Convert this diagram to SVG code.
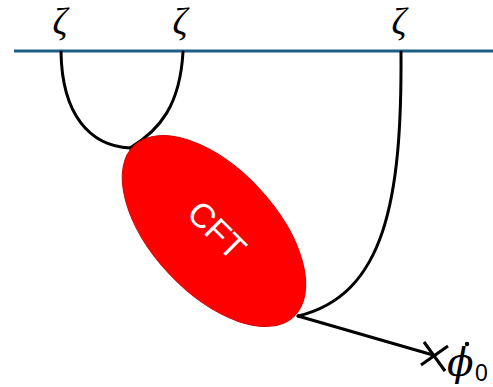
<svg xmlns="http://www.w3.org/2000/svg" width="493" height="387" viewBox="0 0 493 387">
<style>
.lbl{font-family:"Liberation Serif","DejaVu Serif",serif;font-style:italic;font-size:37px;fill:#000;text-anchor:middle}
.wire{fill:none;stroke:#000;stroke-width:3;stroke-linecap:round}
</style>
<rect width="493" height="387" fill="#fff"/>
<g id="boundary">
<line x1="14" y1="51" x2="493" y2="51" stroke="#1b5f84" stroke-width="3"/>
</g>
<g id="labels">
<text class="lbl" x="60" y="34">ζ</text>
<text class="lbl" x="180" y="34">ζ</text>
<text class="lbl" x="399" y="34">ζ</text>
</g>
<g id="connectors">
<path class="wire" d="M61,52 C62,115 90,146 130,148"/>
<path class="wire" d="M183,52 C180,105 160,130 130,148"/>
<path class="wire" d="M401,52 C402,200 385,295 298,316"/>
<path class="wire" d="M298,316 L433,355"/>
</g>
<g id="cft">
<ellipse cx="214" cy="231" rx="117" ry="62" transform="rotate(47 214 231)" fill="#fe0000" stroke="#d40000" stroke-width="1"/>
<text x="217" y="242" transform="rotate(45 217 230)" font-family="Liberation Sans,Arial,sans-serif" font-size="34" fill="#fff" text-anchor="middle">CFT</text>
</g>
<g id="source">
<line x1="424" y1="342" x2="445" y2="371" stroke="#000" stroke-width="3"/>
<line x1="421" y1="365" x2="448" y2="346" stroke="#000" stroke-width="3"/>
<text x="447" y="376" font-family="DejaVu Serif,serif" font-style="italic" font-size="39">ϕ</text>
<circle cx="467" cy="344" r="2.2" fill="#000"/>
<text x="475" y="381" font-family="Liberation Sans,sans-serif" font-size="23">0</text>
</g>
</svg>
